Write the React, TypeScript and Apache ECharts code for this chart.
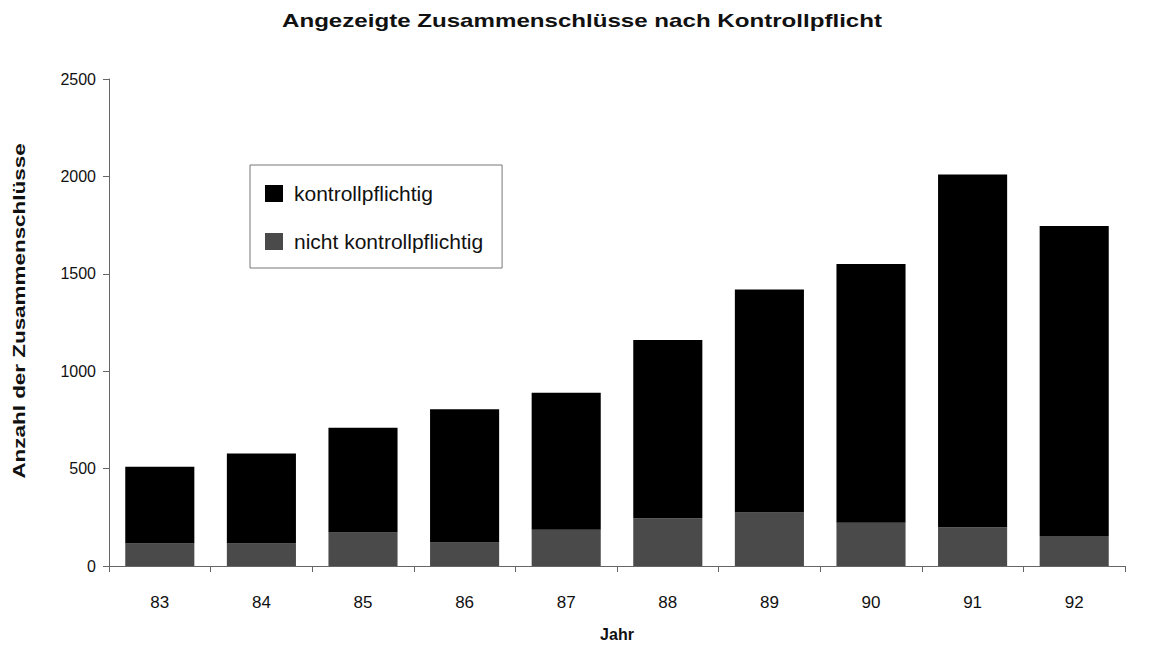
import React, { useEffect, useRef } from "react";
import * as echarts from "echarts";

const TITLE = "Angezeigte Zusammenschlüsse nach Kontrollpflicht";
const Y_NAME = "Anzahl der Zusammenschlüsse";
const X_NAME = "Jahr";
const years = ["83", "84", "85", "86", "87", "88", "89", "90", "91", "92"];
const nichtKontrollpflichtig = [116, 115, 172, 120, 186, 245, 274, 222, 199, 154];
const kontrollpflichtig = [394, 463, 538, 685, 704, 915, 1146, 1328, 1811, 1591];
const yTicks = { min: 0, max: 2500, interval: 500 };

export default function App() {
  const ref = useRef<HTMLDivElement>(null);
  useEffect(() => {
    const chart = echarts.init(ref.current!, null, { renderer: "svg" });
    const font = "Arial, 'Liberation Sans', sans-serif";
    chart.setOption({
      animation: false,
      backgroundColor: "#fff",
      textStyle: { fontFamily: font, color: "#000" },
      graphic: [
        {
          type: "text",
          x: 582,
          y: 21,
          scaleX: 1.34,
          style: {
            text: TITLE,
            font: "bold 18px Arial, 'Liberation Sans', sans-serif",
            fill: "#111",
            textAlign: "center",
            textVerticalAlign: "middle",
          },
        },
        {
          type: "text",
          x: 19,
          y: 311,
          rotation: Math.PI / 2,
          scaleX: 1.32,
          style: {
            text: Y_NAME,
            font: "bold 17px Arial, 'Liberation Sans', sans-serif",
            fill: "#111",
            textAlign: "center",
            textVerticalAlign: "middle",
          },
        },
      ],
      grid: { left: 109, right: 38, top: 79, bottom: 75, containLabel: false },
      legend: {
        orient: "vertical",
        left: 250,
        top: 165,
        padding: [18, 19, 16, 15],
        itemWidth: 18,
        itemHeight: 17,
        itemGap: 27,
        icon: "rect",
        borderColor: "#777",
        borderWidth: 1,
        data: ["kontrollpflichtig", "nicht kontrollpflichtig"],
        textStyle: { fontSize: 21, color: "#111", fontFamily: font, padding: [0, 0, 0, 6] },
      },
      xAxis: {
        type: "category",
        data: years,
        name: X_NAME,
        nameLocation: "middle",
        nameGap: 60,
        nameTextStyle: { fontSize: 16, fontWeight: "bold", color: "#111" },
        axisLine: { lineStyle: { color: "#666", width: 1 } },
        axisTick: { show: true, length: 6, lineStyle: { color: "#666" } },
        axisLabel: { fontSize: 17, color: "#111", margin: 28 },
      },
      yAxis: {
        type: "value",
        min: yTicks.min,
        max: yTicks.max,
        interval: yTicks.interval,
        axisLine: { show: true, lineStyle: { color: "#666", width: 1 } },
        axisTick: { show: true, length: 6, lineStyle: { color: "#666" } },
        axisLabel: { fontSize: 16, color: "#111", margin: 13, formatter: (v: number) => String(v) },
        splitLine: { show: false },
      },
      series: [
        {
          name: "nicht kontrollpflichtig",
          type: "bar",
          stack: "total",
          data: nichtKontrollpflichtig,
          barWidth: "68%",
          itemStyle: { color: "#4a4a4a" },
        },
        {
          name: "kontrollpflichtig",
          type: "bar",
          stack: "total",
          data: kontrollpflichtig,
          barWidth: "68%",
          itemStyle: { color: "#000" },
        },
      ],
    });
    return () => chart.dispose();
  }, []);
  return (
    <div
      ref={ref}
      style={{ position: "absolute", left: 0, top: 0, width: 1163, height: 647 }}
    />
  );
}
